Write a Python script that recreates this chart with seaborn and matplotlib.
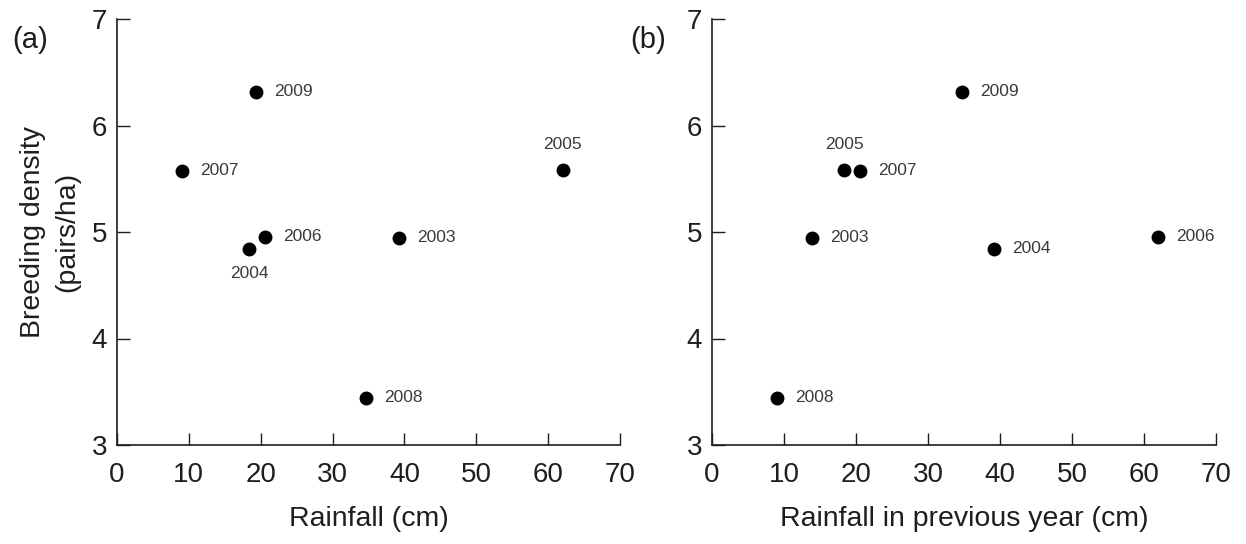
import matplotlib
matplotlib.use("Agg")
from matplotlib import pyplot as plt
import pandas as pd
import seaborn as sns

# values
years = [2003, 2004, 2005, 2006, 2007, 2008, 2009]
density = [4.94, 4.84, 5.58, 4.95, 5.57, 3.44, 6.31]
rainfall = [39.2, 18.4, 62.0, 20.6, 9.0, 34.7, 19.4]
rainfall_prev = [13.9, 39.2, 18.4, 62.0, 20.6, 9.0, 34.7]

df = pd.DataFrame({"year": years, "density": density,
                   "rain": rainfall, "rain_prev": rainfall_prev})

sns.set_style("ticks")
plt.rcParams["font.family"] = ["Liberation Sans", "DejaVu Sans"]
plt.rcParams["xtick.direction"] = "in"
plt.rcParams["ytick.direction"] = "in"

fig = plt.figure(figsize=(12.46, 5.44), dpi=100)
W, H = 1246, 544
ax1 = fig.add_axes([117 / W, 1 - 445 / H, 503 / W, 426 / H])
ax2 = fig.add_axes([712 / W, 1 - 445 / H, 504 / W, 426 / H])

# where each year label goes relative to its dot
place_a = {2004: "below", 2005: "above"}
place_b = {2005: "above"}


def panel(ax, xcol, xlabel, place):
    sns.scatterplot(data=df, x=xcol, y="density", ax=ax, color="black",
                    s=100, edgecolor="black", linewidth=0, zorder=3)
    for _, r in df.iterrows():
        where = place.get(int(r["year"]), "right")
        if where == "right":
            off, ha, va = (13, 0.5), "left", "center"
        elif where == "above":
            off, ha, va = (0, 18.5), "center", "center"
        else:
            off, ha, va = (0, -17.5), "center", "center"
        ax.annotate(str(int(r["year"])), (r[xcol], r["density"]),
                    xytext=off, textcoords="offset points",
                    ha=ha, va=va, fontsize=12.5, color="#3a3a3a")
    ax.set_xlim(0, 70)
    ax.set_ylim(3, 7)
    ax.set_xticks(range(0, 71, 10))
    ax.set_yticks([3, 4, 5, 6, 7])
    ax.tick_params(labelsize=20, length=9, width=1, colors="#1e1e1e")
    ax.tick_params(axis="x", pad=12)
    ax.tick_params(axis="y", pad=7)
    ax.set_xlabel(xlabel, fontsize=20.5, labelpad=13, color="#1e1e1e")
    ax.set_ylabel("")
    for s in ["left", "bottom"]:
        ax.spines[s].set_linewidth(1.2)
        ax.spines[s].set_color("#1e1e1e")
    sns.despine(ax=ax)
    ax.patch.set_alpha(0)
    return ax


panel(ax1, "rain", "Rainfall (cm)", place_a)
panel(ax2, "rain_prev", "Rainfall in previous year (cm)", place_b)

ax1.set_ylabel("Breeding density\n(pairs/ha)", fontsize=20.5,
               color="#1e1e1e", linespacing=1.4)
ax1.yaxis.set_label_coords((80 - 117) / 503, 0.5)

fig.text(30 / W, 1 - 40 / H, "(a)", fontsize=21, ha="center", va="center",
         color="#1e1e1e")
fig.text(648 / W, 1 - 40 / H, "(b)", fontsize=21, ha="center", va="center",
         color="#1e1e1e")

plt.savefig("out.png", dpi=100)
